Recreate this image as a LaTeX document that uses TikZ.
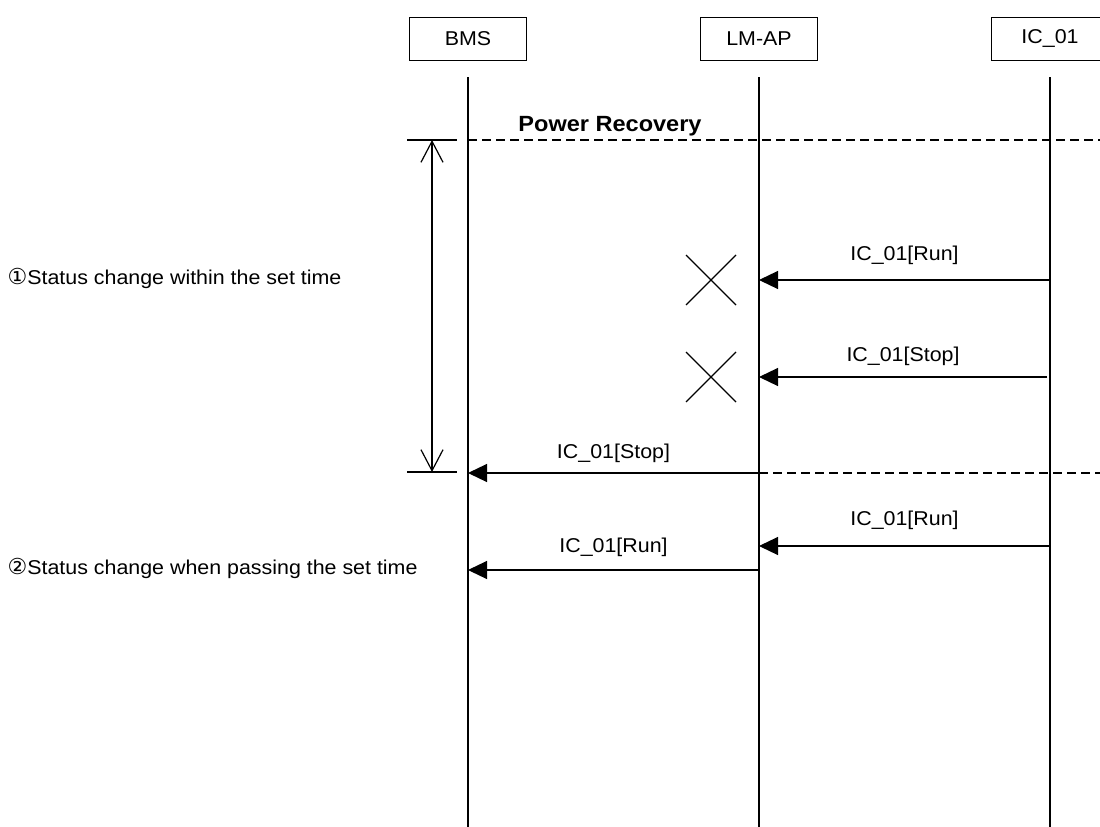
\documentclass[tikz,border=0pt]{standalone}
\usepackage{fontspec}
\setmainfont{Liberation Sans}[FakeStretch=1.07]
\newfontfamily\circfont{DejaVu Sans}
\usetikzlibrary{arrows.meta}

\begin{document}
\begin{tikzpicture}[x=1pt, y=-1pt, line width=1.2pt,
    actor/.style={draw, minimum width=117pt, minimum height=43pt, inner sep=0pt, font=\fontsize{20}{23}\selectfont},
    msg/.style={-{Triangle[length=19pt,width=18pt]}},
    lbl/.style={font=\fontsize{20}{23}\selectfont, inner sep=0pt},
    gap/.style={dash pattern=on 9pt off 5pt}]
    \useasboundingbox (0,0) rectangle (1100,827);
    \clip (0,0) rectangle (1100,827);
    % lifeline heads
    \node[actor] (bms)  at (468,39)  {BMS};
    \node[actor] (lmap) at (759,39)  {LM-AP};
    \node[actor] (ic)   at (1050,39) {IC\_01};
    \coordinate (bmsB)  at (468,830);
    \coordinate (lmapB) at (759,830);
    \coordinate (icB)   at (1050,830);
    \draw (bms.south  |- 0,77) -- (bmsB);
    \draw (lmap.south |- 0,77) -- (lmapB);
    \draw (ic.south   |- 0,77) -- (icB);
    % set time window
    \coordinate (tA) at (407,140); \coordinate (tB) at (457,140);
    \coordinate (tC) at (407,472); \coordinate (tD) at (457,472);
    \draw (tA) -- (tB);
    \draw (tC) -- (tD);
    \draw[gap] (468,140) -- (1100,140);
    \draw[{Straight Barb[length=21pt,width=22pt]}-{Straight Barb[length=21pt,width=22pt]}] (432,140) -- (432,472);
    \node[font=\fontsize{22}{25}\selectfont\bfseries, inner sep=0pt] (rec) at (610,126) {Power Recovery};
    % messages
    \coordinate (m1a) at (1050,280); \coordinate (m1b) at (759,280);
    \coordinate (m2a) at (1047,377); \coordinate (m2b) at (759,377);
    \coordinate (m3a) at (759,473);  \coordinate (m3b) at (468,473);
    \coordinate (m4a) at (1050,546); \coordinate (m4b) at (759,546);
    \coordinate (m5a) at (759,570);  \coordinate (m5b) at (468,570);
    \draw[msg] (m1a) -- (m1b) node[lbl, midway, yshift=25pt] {IC\_01[Run]};
    \draw[msg] (m2a) -- (m2b) node[lbl, midway, yshift=21pt] {IC\_01[Stop]};
    \draw[msg] (m3a) -- (m3b) node[lbl, midway, yshift=20pt] {IC\_01[Stop]};
    \draw[gap] (m3a) -- (1100,473);
    \draw[msg] (m4a) -- (m4b) node[lbl, midway, yshift=26pt] {IC\_01[Run]};
    \draw[msg] (m5a) -- (m5b) node[lbl, midway, yshift=23pt] {IC\_01[Run]};
    % discarded
    \draw (686,255) -- (736,305);
    \draw (686,305) -- (736,255);
    \draw (686,352) -- (736,402);
    \draw (686,402) -- (736,352);
    % notes
    \node[lbl, anchor=west] (note1) at (7,278) {{\circfont\fontsize{22}{23}\selectfont ①}Status change within the set time};
    \node[lbl, anchor=west] (note2) at (7,568) {{\circfont\fontsize{22}{23}\selectfont ②}Status change when passing the set time};
\end{tikzpicture}
\end{document}
